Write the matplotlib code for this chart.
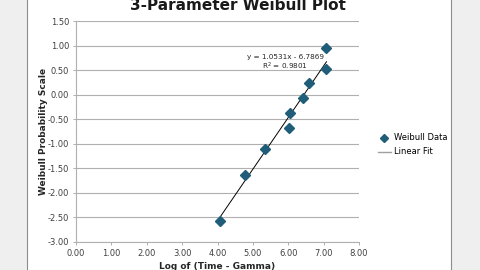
import numpy as np
import matplotlib.pyplot as plt
from matplotlib.patches import Rectangle
from matplotlib.lines import Line2D

# Weibull data
log_time = [4.07, 4.79, 5.34, 6.03, 6.06, 6.43, 6.59, 7.08, 7.08]
weibull_y = [-2.57, -1.63, -1.10, -0.69, -0.37, -0.07, 0.23, 0.53, 0.94]
slope, intercept = 1.0531, -6.7869
r2 = 0.9801

fig = plt.figure(figsize=(4.8, 2.7), dpi=100)
fig.patch.set_facecolor('#efefef')
fig.patches.append(Rectangle((27/480, -0.01), 424/480, 1.02, transform=fig.transFigure,
                             facecolor='white', edgecolor='#8c8c8c', lw=0.8, zorder=-10))

ax = fig.add_axes([76/480, 28.3/270, 283/480, 220.7/270])
ax.set_facecolor('none')

xs = np.array([min(log_time), max(log_time)])
ax.plot(xs, slope*xs + intercept, color='black', lw=0.7, zorder=2)
ax.plot(log_time, weibull_y, 'D', color='#1f5d78', ms=5, zorder=3)

ax.set_xlim(0, 8)
ax.set_ylim(-3, 1.5)
ax.set_xticks(np.arange(0, 8.01, 1))
ax.set_yticks(np.arange(-3, 1.51, 0.5))
ax.set_xticklabels(['%.2f' % v for v in np.arange(0, 8.01, 1)])
ax.set_yticklabels(['%.2f' % v for v in np.arange(-3, 1.51, 0.5)])
ax.tick_params(labelsize=6, length=2, width=0.6, pad=3)
ax.tick_params(axis='x', colors='#a0a0a0', labelcolor='#404040')
ax.tick_params(axis='y', colors='#a0a0a0', labelcolor='#404040')
ax.grid(axis='y', color='#b0b0b0', lw=0.8)
ax.set_axisbelow(True)
for s in ['top', 'right']:
    ax.spines[s].set_visible(False)
for s in ['left', 'bottom']:
    ax.spines[s].set_color('#b0b0b0')
    ax.spines[s].set_linewidth(0.8)

ax.set_xlabel('Log of (Time - Gamma)', fontsize=6.5, fontweight='bold', color='#262626', labelpad=3)
ax.set_ylabel('Weibull Probability Scale', fontsize=6.5, fontweight='bold', color='#262626', labelpad=0)

ax.text(5.92, 0.76, 'y = 1.0531x - 6.7869', fontsize=5.2, color='#262626', ha='center', va='center')
ax.text(5.92, 0.58, 'R$^2$ = 0.9801', fontsize=5.2, color='#262626', ha='center', va='center')

fig.text(238/480, 1 - 6/270, '3-Parameter Weibull Plot', fontsize=11, fontweight='bold',
         ha='center', va='center', color='#1a1a1a')

handles = [Line2D([], [], marker='D', ls='none', color='#1f5d78', ms=4),
           Line2D([], [], color='#a0a0a0', lw=1)]
fig.legend(handles, ['Weibull Data', 'Linear Fit'], loc='center left',
           bbox_to_anchor=(370/480, 1 - 145/270), frameon=False, fontsize=6,
           handlelength=1.6, handletextpad=0.4, labelspacing=0.6)

fig.savefig('out.png', dpi=100, facecolor=fig.get_facecolor())
